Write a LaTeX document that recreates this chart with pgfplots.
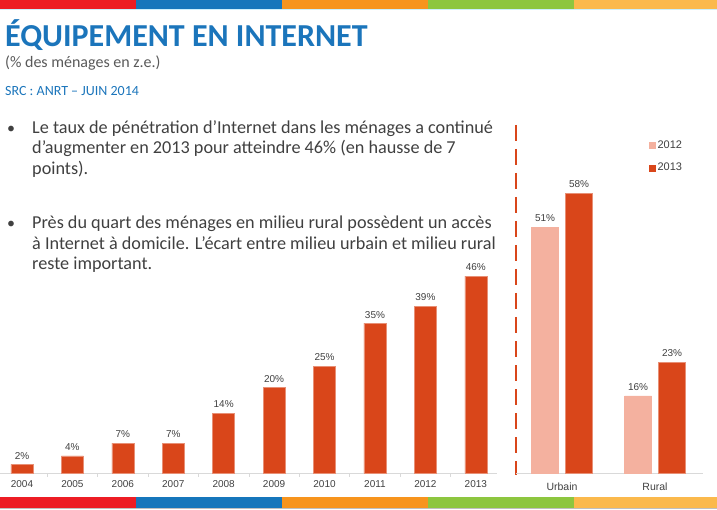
\documentclass[border=0pt]{standalone}
\usepackage{fontspec}
\setmainfont{Carlito}
\newfontfamily\arial{Liberation Sans}
\usepackage{pgfplots}
\pgfplotsset{compat=1.18}
\definecolor{barA}{RGB}{217,70,26}
\definecolor{barB}{RGB}{244,177,159}
\definecolor{txt}{RGB}{64,64,64}
\definecolor{subtxt}{RGB}{89,89,89}
\definecolor{tblue}{RGB}{27,117,187}
\definecolor{sred}{RGB}{237,28,36}
\definecolor{sblue}{RGB}{22,118,187}
\definecolor{sorange}{RGB}{247,148,29}
\definecolor{sgreen}{RGB}{141,198,63}
\definecolor{slorange}{RGB}{251,185,76}
\definecolor{axgray}{RGB}{217,217,217}
\begin{document}
\begin{tikzpicture}[x=1pt,y=1pt]
\useasboundingbox (0,0) rectangle (717,509);
% top stripe
\fill[sred] (0,500) rectangle (136,509);
\fill[sblue] (136,500) rectangle (282,509);
\fill[sorange] (282,500) rectangle (428,509);
\fill[sgreen] (428,500) rectangle (574,509);
\fill[slorange] (574,500) rectangle (717,509);
\fill[cyan!20] (0,499) rectangle (717,500);
% bottom stripe
\fill[sred] (0,1) rectangle (136,12);
\fill[sblue] (136,1) rectangle (282,12);
\fill[sorange] (282,1) rectangle (428,12);
\fill[sgreen] (428,1) rectangle (574,12);
\fill[slorange] (574,1) rectangle (717,12);
\fill[black!25] (0,0) rectangle (717,1);
% titles
\node[anchor=base west, inner sep=0, text=tblue, font=\fontsize{32}{38}\selectfont\bfseries] at (5,462) {ÉQUIPEMENT EN INTERNET};
\node[anchor=base west, inner sep=0, text=subtxt, font=\fontsize{16}{19}\selectfont] at (5,441) {(\% des ménages en z.e.)};
\node[anchor=base west, inner sep=0, text=tblue, font=\fontsize{14}{16}\selectfont] at (5,413) {SRC : ANRT – JUIN 2014};
% bullets
\begin{scope}[every node/.style={anchor=base west, inner sep=0, text=txt, font=\fontsize{18.2}{21}\selectfont}]
\node[font=\fontsize{16}{19}\selectfont] at (7,375) {•};
\node at (32,375) {Le taux de pénétration d’Internet dans les ménages a continué};
\node at (32,355) {d’augmenter en 2013 pour atteindre 46\% (en hausse de 7};
\node at (32,334.5) {points).};
\node[font=\fontsize{16}{19}\selectfont] at (7,280) {•};
\node at (32,280) {Près du quart des ménages en milieu rural possèdent un accès};
\node at (32,259.5) {à Internet à domicile. L’écart entre milieu urbain et milieu rural};
\node at (32,239) {reste important.};
\end{scope}
% separator
\draw[barA, line width=1.8pt, dash pattern=on 16pt off 8pt] (516,384) -- (516,34);
% left chart
\begin{axis}[at={(0pt,36pt)}, anchor=south west, scale only axis,
  width=497pt, height=214pt, xmin=-0.436, xmax=9.42, ymin=0, ymax=50,
  axis y line=none, axis x line=bottom,
  axis line style={-, draw=axgray, line width=0.8pt},
  ybar, bar width=22pt,
  xtick={0,1,2,3,4,5,6,7,8,9},
  xticklabels={2004,2005,2006,2007,2008,2009,2010,2011,2012,2013},
  major tick length=0pt,
  minor xtick={0.5,1.5,2.5,3.5,4.5,5.5,6.5,7.5,8.5},
  minor tick length=3.5pt, tick align=outside,
  minor tick style={draw=axgray, line width=0.6pt},
  xticklabel style={font=\arial\fontsize{10}{12}\selectfont, text=txt, yshift=-4pt},
  nodes near coords={\pgfmathprintnumber[assume math mode=true]{\pgfplotspointmeta}\%},
  every node near coord/.append style={font=\arial\fontsize{10}{12}\selectfont, text=txt, yshift=1.5pt},
  clip=false]
\addplot[fill=barA, draw=barA!60!white, line width=0.5pt] coordinates {(0,2) (1,4) (2,7) (3,7) (4,14) (5,20) (6,25) (7,35) (8,39) (9,46)};
\end{axis}
% right chart
\begin{axis}[at={(516pt,36pt)}, anchor=south west, scale only axis,
  width=187pt, height=350pt, xmin=-0.495, xmax=1.516, ymin=0, ymax=72.6,
  axis y line=none, axis x line=bottom,
  axis line style={-, draw=axgray, line width=0.8pt},
  ybar, bar width=27pt,
  xtick={0,1}, xticklabels={Urbain,Rural},
  major tick length=0pt,
  xticklabel style={font=\arial\fontsize{10.5}{12}\selectfont, text=txt, yshift=-6pt},
  nodes near coords={\pgfmathprintnumber[assume math mode=true]{\pgfplotspointmeta}\%},
  every node near coord/.append style={font=\arial\fontsize{10}{12}\selectfont, text=txt, yshift=2pt},
  legend style={at={(axis description cs:0.711,0.955)}, anchor=north west, draw=none, fill=none,
    font=\arial\fontsize{11}{13}\selectfont, text=txt, row sep=9pt, inner sep=0pt},
  legend cell align=left,
  clip=false]
\addlegendimage{legend image code/.code={\fill[barB] (0pt,-3pt) rectangle (6pt,3pt);}}
\addlegendentry{2012}
\addlegendimage{legend image code/.code={\fill[barA] (0pt,-3pt) rectangle (6pt,3pt);}}
\addlegendentry{2013}
\addplot[fill=barB, draw=barB, bar shift=-17pt, forget plot] coordinates {(0,51) (1,16)};
\addplot[fill=barA, draw=barA!60!white, line width=0.5pt, bar shift=17pt, forget plot] coordinates {(0,58) (1,23)};
\end{axis}
\end{tikzpicture}
\end{document}
